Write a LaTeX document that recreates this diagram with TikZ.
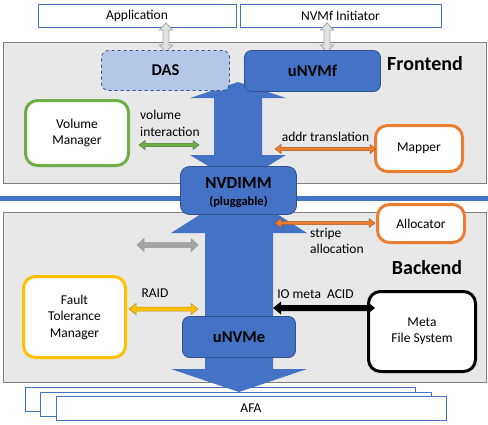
\documentclass[tikz,border=0pt]{standalone}
\usepackage{fontspec}
\setmainfont{Carlito}
\usetikzlibrary{calc}
\definecolor{bblue}{HTML}{4472C4}
\definecolor{dblue}{HTML}{2F528F}
\definecolor{lblue}{HTML}{B4C7E7}
\definecolor{panel}{HTML}{E8E8E8}
\definecolor{panelb}{HTML}{808080}
\definecolor{vgreen}{HTML}{70AD47}
\definecolor{vgreend}{HTML}{507E32}
\definecolor{vorange}{HTML}{ED7D31}
\definecolor{voranged}{HTML}{AE5A21}
\definecolor{vyellow}{HTML}{FFC000}
\definecolor{vyellowd}{HTML}{BF9000}
\definecolor{vgray}{HTML}{A5A5A5}
\definecolor{hollow}{HTML}{E3E3E3}
\newcommand\hdbl[6]{%
\path[#6] let \p1=(#1), \p2=(#2) in
 (\x1,\y1) -- (\x1+#5,\y1+#4) -- (\x1+#5,\y1+#3) -- (\x2-#5,\y1+#3) -- (\x2-#5,\y1+#4) -- (\x2,\y1)
 -- (\x2-#5,\y1-#4) -- (\x2-#5,\y1-#3) -- (\x1+#5,\y1-#3) -- (\x1+#5,\y1-#4) -- cycle;}
\newcommand\vdbl[6]{%
\path[#6] let \p1=(#1), \p2=(#2) in
 (\x1,\y1) -- (\x1+#4,\y1-#5) -- (\x1+#3,\y1-#5) -- (\x1+#3,\y2+#5) -- (\x1+#4,\y2+#5) -- (\x1,\y2)
 -- (\x1-#4,\y2+#5) -- (\x1-#3,\y2+#5) -- (\x1-#3,\y1-#5) -- (\x1-#4,\y1-#5) -- cycle;}
\tikzset{
  base/.style={font=\fontsize{13.5}{16.5}\selectfont, inner sep=0pt, align=center},
  topbox/.style={base, draw=bblue, line width=1pt, fill=white},
  bluebox/.style={base, font=\fontsize{16.5}{19}\selectfont\bfseries, draw=dblue, line width=0.8pt, fill=bblue, rounded corners=7pt},
  sidebox/.style={base, fill=white, line width=3pt, rounded corners=12pt},
  lbl/.style={base},
  sect/.style={base, font=\fontsize{20}{24}\selectfont\bfseries},
  panelbox/.style={fill=panel, draw=panelb, line width=1pt},
}
\begin{document}
\begin{tikzpicture}[x=1pt, y=-1pt]
\useasboundingbox (0,0) rectangle (488,424);
\fill[white] (0,0) rectangle (488,424);
% top boxes
\node[topbox, minimum width=198pt, minimum height=23pt] (app) at (137,15.5) {Application};
\node[topbox, minimum width=201pt, minimum height=23pt] (init) at (340.5,15.5) {NVMf Initiator};
% panels
\path[panelbox] (3,42) rectangle (486,183);
\path[panelbox] (3,212) rectangle (486,382);
\draw[bblue, line width=5.5pt] (0,198.5) -- (488,198.5);
% AFA stack
\node[topbox, minimum width=390pt, minimum height=24pt] (afa1) at (220,399) {};
\node[topbox, minimum width=391pt, minimum height=24pt] (afa2) at (235.5,404) {};
\node[topbox, minimum width=390pt, minimum height=24pt] (afa3) at (251,408) {AFA};
% hollow vertical arrows
\coordinate (h1a) at (166,23); \coordinate (h1b) at (166,52);
\coordinate (h2a) at (327,23); \coordinate (h2b) at (327,52);
\vdbl{h1a}{h1b}{3pt}{6.5pt}{7pt}{fill=hollow, draw=vgray, line width=0.8pt}
\vdbl{h2a}{h2b}{3pt}{6.5pt}{7pt}{fill=hollow, draw=vgray, line width=0.8pt}
% big blue arrows
\fill[bblue] (238,82) -- (286,98) -- (262,98) -- (262,155) -- (286,155) -- (238,184)
  -- (190,155) -- (214,155) -- (214,98) -- (190,98) -- cycle;
\fill[bblue] (239,190) -- (307,233) -- (273,233) -- (273,369) -- (307,369) -- (239,392)
  -- (171,369) -- (205,369) -- (205,233) -- (171,233) -- cycle;
% blue boxes
\node[bluebox, fill=lblue, dashed, minimum width=128pt, minimum height=40pt] (das) at (165.5,70.5) {DAS};
\node[bluebox, minimum width=136pt, minimum height=41pt] (unvmf) at (312.5,71) {uNVMf};
\node[bluebox, rounded corners=9pt, minimum width=116pt, minimum height=48pt, font=\fontsize{17}{20}\selectfont\bfseries] (nvdimm) at (238.5,190.5) {};
\node[base, font=\fontsize{17}{20}\selectfont\bfseries] (nvdt) at (238.5,183) {NVDIMM};
\node[base, font=\fontsize{12.5}{15}\selectfont\bfseries] (nvdp) at (238.5,202) {(pluggable)};
\node[bluebox, minimum width=113pt, minimum height=41pt] (unvme) at (239,337) {uNVMe};
% section labels
\node[sect] (fe) at (425,64) {Frontend};
\node[sect] (be) at (427,268) {Backend};
% side boxes
\node[sidebox, draw=vgreen, minimum width=103pt, minimum height=65pt] (vm) at (77,133) {Volume\\Manager};
\node[sidebox, draw=vorange, minimum width=87pt, minimum height=46pt] (mapper) at (419,148.5) {Mapper};
\node[sidebox, draw=vorange, minimum width=87pt, minimum height=38pt] (alloc) at (421,223.5) {Allocator};
\node[sidebox, draw=vyellow, minimum width=102pt, minimum height=81pt] (ftm) at (74.5,317) {Fault\\Tolerance\\Manager};
\node[sidebox, draw=black, minimum width=107pt, minimum height=80pt] (mfs) at (422,331.5) {Meta\\File System};
% small arrows
\coordinate (ga) at (139,145); \coordinate (gb) at (199,145);
\hdbl{ga}{gb}{1.6pt}{4.5pt}{6pt}{fill=vgreen, draw=vgreend, line width=0.5pt}
\coordinate (oa) at (275,149); \coordinate (ob) at (376,149);
\hdbl{oa}{ob}{1.6pt}{4.5pt}{6pt}{fill=vorange, draw=voranged, line width=0.5pt}
\coordinate (sa) at (275,223); \coordinate (sb) at (375,223);
\hdbl{sa}{sb}{1.6pt}{4.5pt}{6pt}{fill=vorange, draw=voranged, line width=0.5pt}
\coordinate (gra) at (137,245); \coordinate (grb) at (198,245);
\hdbl{gra}{grb}{2.5pt}{6.5pt}{7pt}{fill=vgray, draw=gray!80, line width=0.5pt}
\coordinate (ya) at (129,309); \coordinate (yb) at (198,309);
\hdbl{ya}{yb}{2pt}{5.5pt}{7pt}{fill=vyellow, draw=vyellowd, line width=0.5pt}
\coordinate (ka) at (273,308); \coordinate (kb) at (375,308);
\hdbl{ka}{kb}{3pt}{6.5pt}{8pt}{fill=black}
% labels
\node[lbl, align=left, anchor=west] (vil) at (140,123.5) {volume\\interaction};
\node[lbl] (atl) at (325.5,137) {addr translation};
\node[lbl, align=left, anchor=west] (sal) at (310,241) {stripe\\allocation};
\node[lbl] (raid) at (155,293) {RAID};
\node[lbl] (iom) at (315.5,294) {IO meta\ \ ACID};
\end{tikzpicture}
\end{document}
